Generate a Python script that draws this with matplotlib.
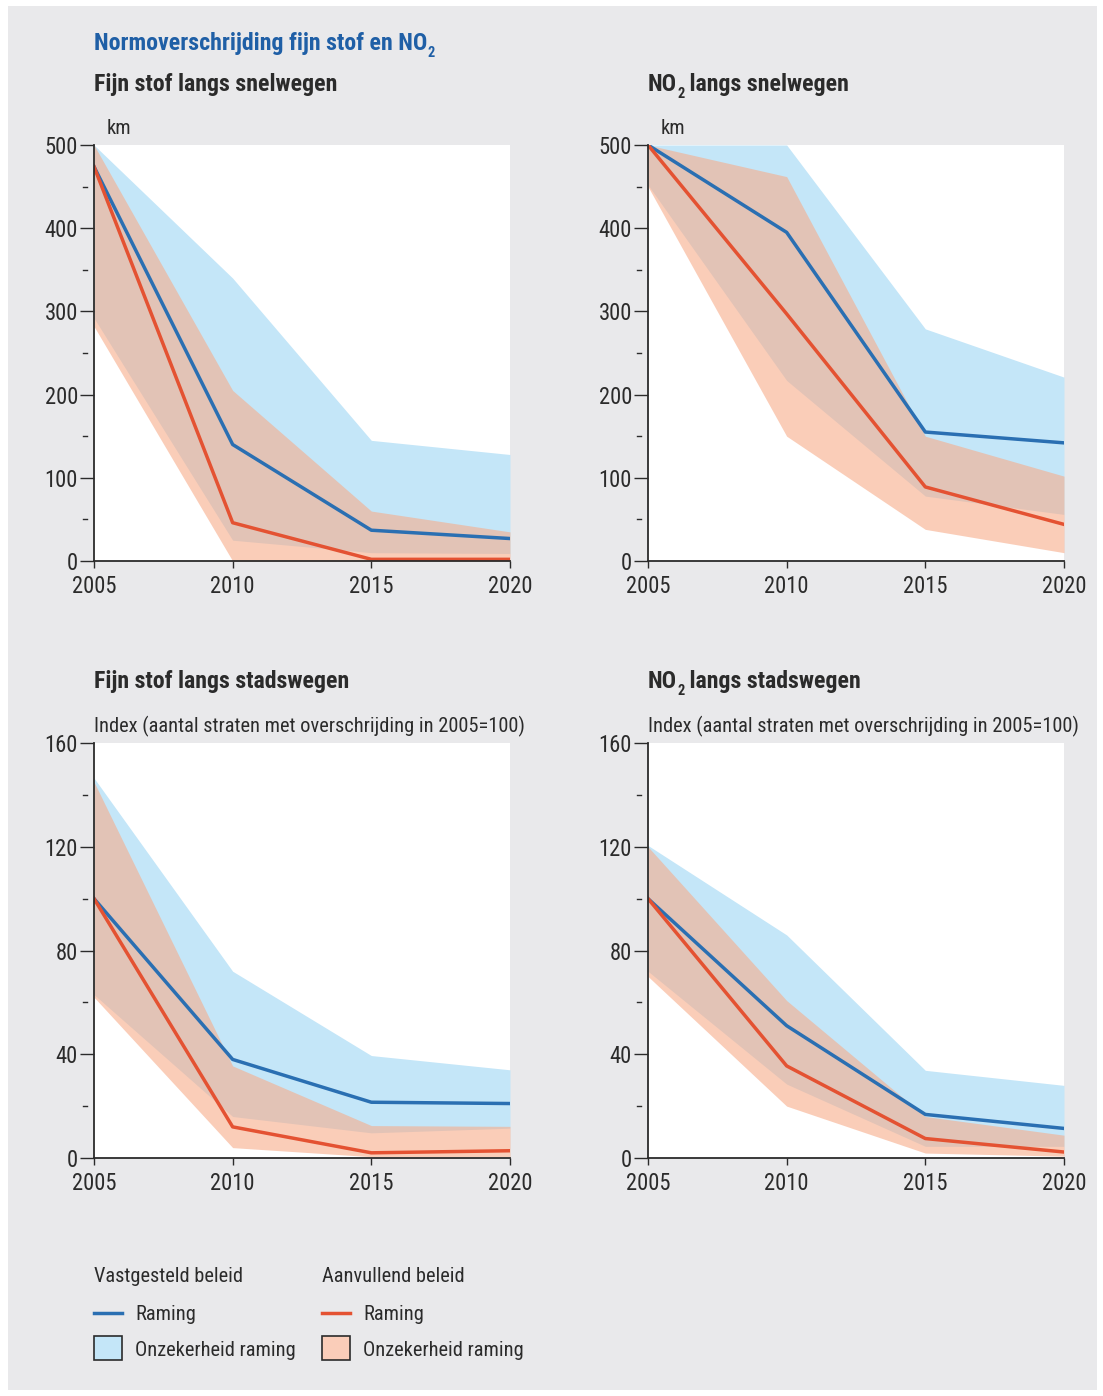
import matplotlib
matplotlib.use("Agg")
import matplotlib.pyplot as plt
from matplotlib import font_manager as fm
from matplotlib.patches import Rectangle
from matplotlib.lines import Line2D
from matplotlib.transforms import blended_transform_factory

# smal lettertype als dat er is, anders Liberation Sans
names = {f.name for f in fm.fontManager.ttflist}
FONT = 'Liberation Sans'
for cand in ['Liberation Sans Narrow', 'Roboto Condensed', 'Open Sans Condensed']:
    if cand in names:
        FONT = cand
        break
plt.rcParams['font.family'] = [FONT, 'DejaVu Sans']

# jaren op de x-as
years = [2005, 2010, 2015, 2020]

# fijn stof langs snelwegen (km)
fs_snel_vast = [474, 140, 37, 27]
fs_snel_vast_lo = [292, 25, 10, 9]
fs_snel_vast_hi = [500, 340, 145, 128]
fs_snel_aanv = [474, 46, 2, 2]
fs_snel_aanv_lo = [282, 0, 0, 0]
fs_snel_aanv_hi = [500, 205, 60, 35]

# NO2 langs snelwegen (km)
no2_snel_vast = [500, 395, 155, 142]
no2_snel_vast_lo = [452, 217, 78, 56]
no2_snel_vast_hi = [500, 500, 279, 221]
no2_snel_aanv = [500, 297, 89, 44]
no2_snel_aanv_lo = [450, 150, 38, 10]
no2_snel_aanv_hi = [500, 462, 150, 102]

# fijn stof langs stadswegen (index 2005=100)
fs_stad_vast = [100, 38, 21.5, 21]
fs_stad_vast_lo = [63, 16, 9.7, 11.5]
fs_stad_vast_hi = [146.5, 72, 39.5, 34]
fs_stad_aanv = [100, 12, 2, 2.8]
fs_stad_aanv_lo = [62, 4, 0.5, 0.5]
fs_stad_aanv_hi = [145, 35.5, 12.5, 12.2]

# NO2 langs stadswegen (index 2005=100)
no2_stad_vast = [100, 51, 16.8, 11.4]
no2_stad_vast_lo = [72, 28.5, 4.5, 4.5]
no2_stad_vast_hi = [120.5, 86, 33.8, 28]
no2_stad_aanv = [100, 35.5, 7.5, 2.3]
no2_stad_aanv_lo = [70, 20, 1.9, 0.7]
no2_stad_aanv_hi = [120, 60.7, 16, 8.8]

BG = '#e9e9eb'
DARK = '#2b2b2b'
BLUE = '#2a6fb2'
RED = '#e45232'
LIGHT_BLUE = '#c4e6f8'
PINK = '#f7ac8a'        # met alpha 0.6 -> #facdb9 op wit
PINK_SOLID = '#facdb9'
TITLE_BLUE = '#1f5fa6'

W, H = 1103, 1396
fig = plt.figure(figsize=(W / 100, H / 100), dpi=100)
fig.patch.set_facecolor('white')
fig.patches.append(Rectangle((8 / W, 6 / H), (1097 - 8) / W, (1390 - 6) / H,
                             transform=fig.transFigure, facecolor=BG,
                             edgecolor='none', zorder=-5))
renderer = fig.canvas.get_renderer()


def fx(x):
    return x / W


def fy(y):
    return 1 - y / H


def fit_size(s, target_px, weight='normal'):
    # lettergrootte zodat de tekst ongeveer target_px breed is
    t = fig.text(0, 0, s, fontsize=10, fontweight=weight)
    w = t.get_window_extent(renderer).width
    t.remove()
    return 10 * target_px / w


TITLE_SIZE = min(17.5, fit_size('Fijn stof langs snelwegen', 243, 'bold'))
TEXT_SIZE = min(16, fit_size('Index (aantal straten met overschrijding in 2005=100)', 426))
TICK_SIZE = min(16.5, fit_size('2005', 44))


def rich_text(x, y, parts, size, weight='normal', color=DARK):
    # tekst met subscript, x/y in pixels (y = basislijn vanaf boven)
    for s, sub in parts:
        fs = size * 0.6 if sub else size
        yy = y + (size * 0.3 * 100 / 72 if sub else 0)
        t = fig.text(fx(x), fy(yy), s, fontsize=fs, fontweight=weight,
                     color=color, va='baseline', ha='left')
        x += t.get_window_extent(renderer).width


def panel(box, ymax, major, vast, vast_lo, vast_hi, aanv, aanv_lo, aanv_hi):
    left, top, right, bottom = box
    ax = fig.add_axes([fx(left), fy(bottom), (right - left) / W, (bottom - top) / H])
    ax.set_facecolor('white')
    ax.fill_between(years, vast_lo, vast_hi, color=LIGHT_BLUE, lw=0)
    ax.fill_between(years, aanv_lo, aanv_hi, color=PINK, alpha=0.6, lw=0)
    ax.plot(years, vast, color=BLUE, lw=2.5)
    ax.plot(years, aanv, color=RED, lw=2.5)
    ax.set_xlim(2005, 2020)
    ax.set_ylim(0, ymax)
    for s in ['top', 'right']:
        ax.spines[s].set_visible(False)
    for s in ['left', 'bottom']:
        ax.spines[s].set_color(DARK)
        ax.spines[s].set_linewidth(1.3)
    ax.set_xticks(years)
    ax.set_yticks(range(0, ymax + 1, major))
    ax.tick_params(axis='y', length=10, width=1.0, pad=1.5, labelsize=TICK_SIZE,
                   color=DARK, labelcolor=DARK)
    ax.tick_params(axis='x', length=5, width=1.0, pad=5, labelsize=TICK_SIZE,
                   color=DARK, labelcolor=DARK)
    # losse kleine streepjes tussen de hoofdticks
    tr = blended_transform_factory(ax.transAxes, ax.transData)
    w_ax = right - left
    for v in range(major // 2, ymax, major):
        ax.plot([-11 / w_ax, -7 / w_ax], [v, v], color=DARK, lw=1.0,
                transform=tr, clip_on=False)
    return ax


TL = (94, 145, 510, 561)
TR = (648, 145, 1064, 561)
BL = (94, 743, 510, 1158)
BR = (648, 743, 1064, 1158)

panel(TL, 500, 100, fs_snel_vast, fs_snel_vast_lo, fs_snel_vast_hi,
      fs_snel_aanv, fs_snel_aanv_lo, fs_snel_aanv_hi)
panel(TR, 500, 100, no2_snel_vast, no2_snel_vast_lo, no2_snel_vast_hi,
      no2_snel_aanv, no2_snel_aanv_lo, no2_snel_aanv_hi)
panel(BL, 160, 40, fs_stad_vast, fs_stad_vast_lo, fs_stad_vast_hi,
      fs_stad_aanv, fs_stad_aanv_lo, fs_stad_aanv_hi)
panel(BR, 160, 40, no2_stad_vast, no2_stad_vast_lo, no2_stad_vast_hi,
      no2_stad_aanv, no2_stad_aanv_lo, no2_stad_aanv_hi)

# titels
rich_text(94, 50, [('Normoverschrijding fijn stof en NO', False), ('2', True)],
          TITLE_SIZE, weight='bold', color=TITLE_BLUE)
rich_text(94, 91, [('Fijn stof langs snelwegen', False)], TITLE_SIZE, weight='bold')
rich_text(648, 91, [('NO', False), ('2', True), (' langs snelwegen', False)],
          TITLE_SIZE, weight='bold')
rich_text(94, 688, [('Fijn stof langs stadswegen', False)], TITLE_SIZE, weight='bold')
rich_text(648, 688, [('NO', False), ('2', True), (' langs stadswegen', False)],
          TITLE_SIZE, weight='bold')

# eenheden
rich_text(107, 134, [('km', False)], TEXT_SIZE)
rich_text(661, 134, [('km', False)], TEXT_SIZE)
rich_text(94, 732, [('Index (aantal straten met overschrijding in 2005=100)', False)], TEXT_SIZE)
rich_text(648, 732, [('Index (aantal straten met overschrijding in 2005=100)', False)], TEXT_SIZE)

# legenda
for x0, head, line_c, patch_c in [(94, 'Vastgesteld beleid', BLUE, LIGHT_BLUE),
                                  (322, 'Aanvullend beleid', RED, PINK_SOLID)]:
    rich_text(x0, 1282, [(head, False)], TEXT_SIZE)
    fig.add_artist(Line2D([fx(x0), fx(x0 + 28)], [fy(1313), fy(1313)],
                          transform=fig.transFigure, color=line_c, lw=2.5))
    rich_text(x0 + 41, 1320, [('Raming', False)], TEXT_SIZE)
    fig.add_artist(Rectangle((fx(x0), fy(1360)), 28 / W, 24 / H,
                             transform=fig.transFigure, facecolor=patch_c,
                             edgecolor=DARK, lw=1.2))
    rich_text(x0 + 41, 1356, [('Onzekerheid raming', False)], TEXT_SIZE)

fig.savefig('out.png', dpi=100, facecolor=fig.get_facecolor())
